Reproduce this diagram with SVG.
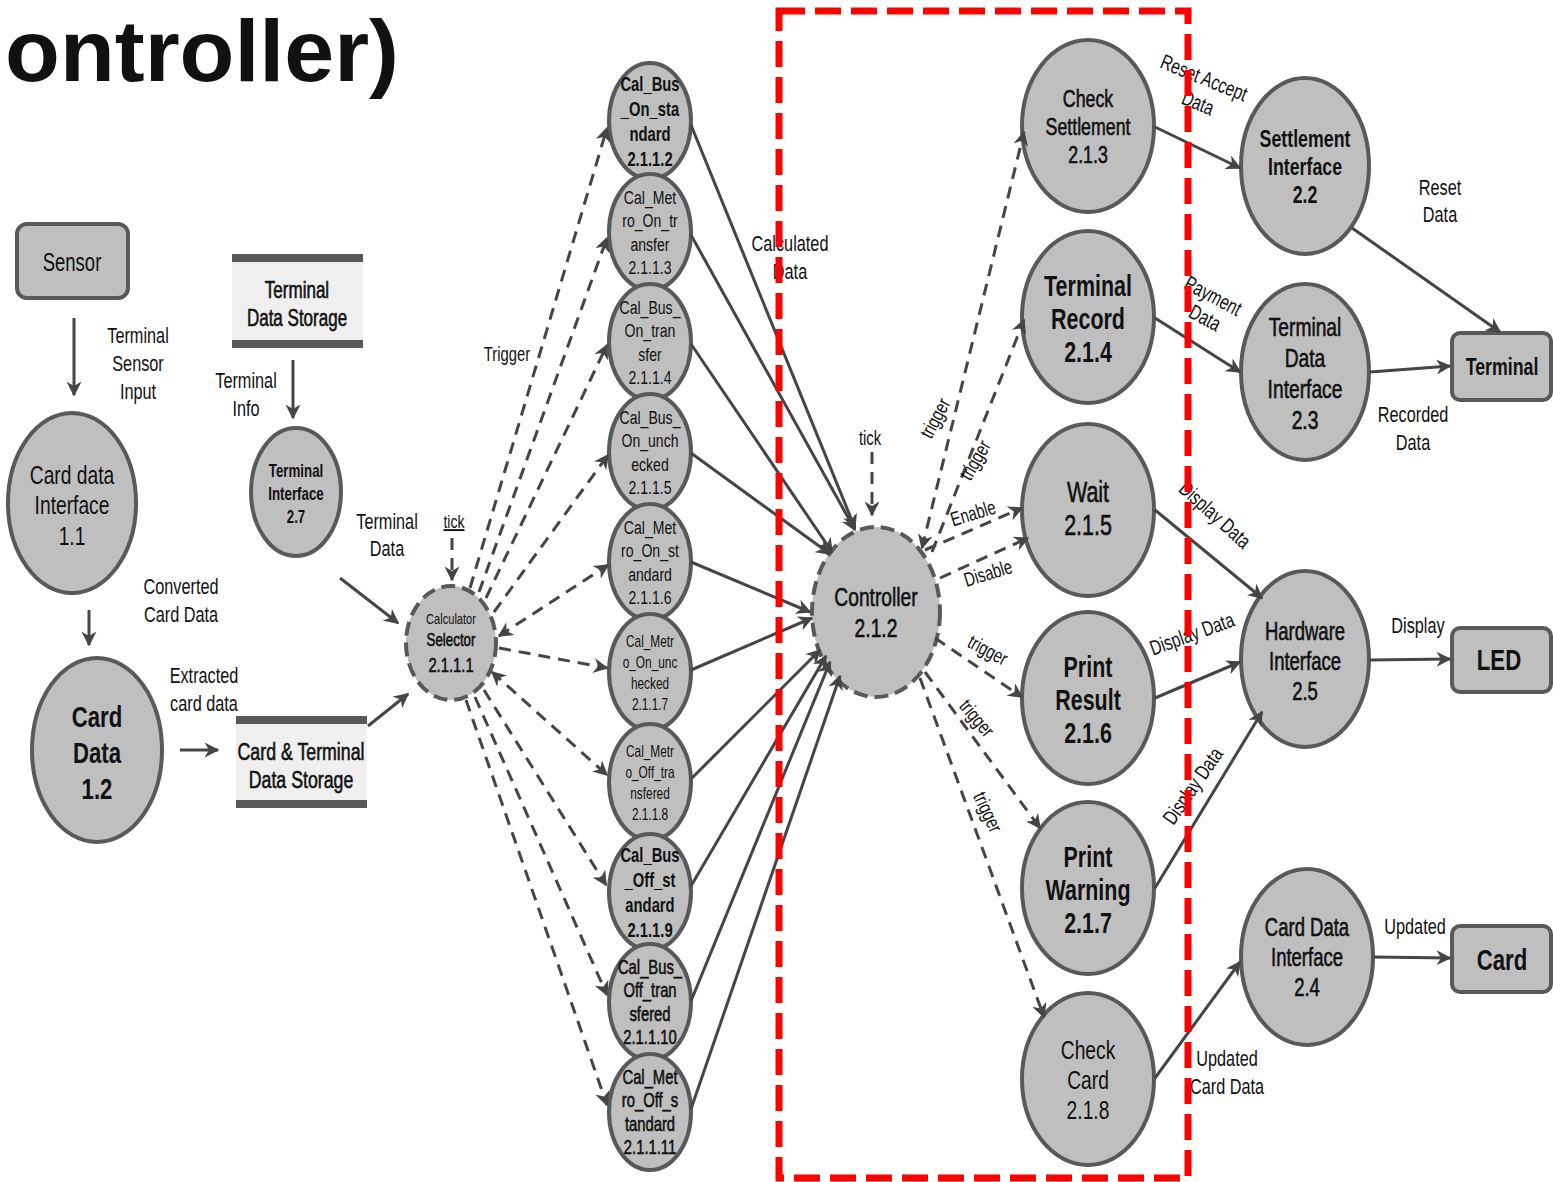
<svg xmlns="http://www.w3.org/2000/svg" width="1553" height="1182" viewBox="0 0 1553 1182">
<style>
.t{font-family:"Liberation Sans","Noto Sans",sans-serif;text-anchor:middle;fill:#111}
.b{font-weight:700}
.sb{stroke:#111;stroke-width:0.6}
.n{fill:#bfbfbf;stroke:#595959;stroke-width:4}
.nd{fill:#bfbfbf;stroke:#595959;stroke-width:4;stroke-dasharray:14 7}
.box{fill:#bfbfbf;stroke:#595959;stroke-width:4}
.sto{fill:#efefef}
.bar{fill:#595959}
.l{stroke:#454545;stroke-width:3;fill:none;marker-end:url(#ah)}
.ld{stroke:#454545;stroke-width:3;fill:none;stroke-dasharray:12 8;marker-end:url(#ah)}
.bi{marker-start:url(#ah)}
.red{fill:none;stroke:#ff0000;stroke-width:7;stroke-dasharray:26 10}
</style>
<defs>
<marker id="ah" viewBox="0 0 10 10" refX="9" refY="5" markerWidth="5" markerHeight="5" orient="auto-start-reverse" markerUnits="strokeWidth">
<path d="M0,0 L10,5 L0,10 L3,5 z" fill="#454545"/>
</marker>
</defs>
<rect width="1553" height="1182" fill="#fff"/>

<text class="t b" font-size="88" style="text-anchor:end" transform="translate(399 81) scale(1.02 1)">ontroller)</text>

<g id="sensor"><rect class="box" x="17" y="224" width="111" height="74" rx="10"/>
<text class="t" font-size="25" transform="translate(72 271) scale(.74 1)">Sensor</text></g>

<g id="n1_1"><ellipse class="n" cx="72" cy="503" rx="64" ry="90"/>
<text class="t" font-size="26" transform="translate(72 484) scale(.74 1)">Card data<tspan x="0" dy="30.5">Interface</tspan><tspan x="0" dy="30.5">1.1</tspan></text></g>

<g id="n1_2"><ellipse class="n" cx="97" cy="750" rx="65" ry="92"/>
<text class="t b" font-size="30" transform="translate(97 727) scale(.74 1)">Card<tspan x="0" dy="36">Data</tspan><tspan x="0" dy="36">1.2</tspan></text></g>

<g id="termStore"><rect class="sto" x="232" y="254" width="131" height="94"/>
<rect class="bar" x="232" y="254" width="131" height="8"/><rect class="bar" x="232" y="340" width="131" height="8"/>
<text class="t sb" font-size="23" transform="translate(297 298) scale(.74 1)">Terminal<tspan x="0" dy="28">Data Storage</tspan></text></g>

<g id="n2_7"><ellipse class="n" cx="296" cy="492" rx="45" ry="64"/>
<text class="t b" font-size="18" transform="translate(296 477) scale(.74 1)">Terminal<tspan x="0" dy="23">Interface</tspan><tspan x="0" dy="23">2.7</tspan></text></g>

<g id="cardStore"><rect class="sto" x="236" y="716" width="131" height="92"/>
<rect class="bar" x="236" y="716" width="131" height="8"/><rect class="bar" x="236" y="800" width="131" height="8"/>
<text class="t sb" font-size="24" transform="translate(301 760) scale(.74 1)">Card &amp; Terminal<tspan x="0" dy="28">Data Storage</tspan></text></g>

<g id="n2_1_1_1"><ellipse class="nd" cx="451" cy="643" rx="45" ry="57"/>
<text class="t" font-size="15" transform="translate(451 624) scale(.74 1)">Calculator</text>
<text class="t sb" font-size="18" transform="translate(451 646) scale(.74 1)">Selector</text>
<text class="t sb" font-size="20" transform="translate(451 672) scale(.74 1)">2.1.1.1</text></g>

<g id="n2_1_1_2"><ellipse class="n" cx="650" cy="121" rx="41" ry="58"/>
<text class="t b" font-size="20" transform="translate(650 91) scale(.74 1)">Cal_Bus<tspan x="0" dy="25">_On_sta</tspan><tspan x="0" dy="25">ndard</tspan><tspan x="0" dy="25">2.1.1.2</tspan></text></g>
<g id="n2_1_1_3"><ellipse class="n" cx="650" cy="232" rx="41" ry="58"/>
<text class="t" font-size="19" transform="translate(650 204) scale(.74 1)">Cal_Met<tspan x="0" dy="23.5">ro_On_tr</tspan><tspan x="0" dy="23.5">ansfer</tspan><tspan x="0" dy="23.5">2.1.1.3</tspan></text></g>
<g id="n2_1_1_4"><ellipse class="n" cx="650" cy="342" rx="41" ry="58"/>
<text class="t" font-size="19" transform="translate(650 314) scale(.74 1)">Cal_Bus_<tspan x="0" dy="23.5">On_tran</tspan><tspan x="0" dy="23.5">sfer</tspan><tspan x="0" dy="23.5">2.1.1.4</tspan></text></g>
<g id="n2_1_1_5"><ellipse class="n" cx="650" cy="452" rx="41" ry="58"/>
<text class="t" font-size="19" transform="translate(650 424) scale(.74 1)">Cal_Bus_<tspan x="0" dy="23.5">On_unch</tspan><tspan x="0" dy="23.5">ecked</tspan><tspan x="0" dy="23.5">2.1.1.5</tspan></text></g>
<g id="n2_1_1_6"><ellipse class="n" cx="650" cy="562" rx="41" ry="58"/>
<text class="t" font-size="19" transform="translate(650 534) scale(.74 1)">Cal_Met<tspan x="0" dy="23.5">ro_On_st</tspan><tspan x="0" dy="23.5">andard</tspan><tspan x="0" dy="23.5">2.1.1.6</tspan></text></g>
<g id="n2_1_1_7"><ellipse class="n" cx="650" cy="672" rx="41" ry="58"/>
<text class="t" font-size="16" transform="translate(650 647) scale(.74 1)">Cal_Metr<tspan x="0" dy="21">o_On_unc</tspan><tspan x="0" dy="21">hecked</tspan><tspan x="0" dy="21">2.1.1.7</tspan></text></g>
<g id="n2_1_1_8"><ellipse class="n" cx="650" cy="782" rx="41" ry="58"/>
<text class="t" font-size="16" transform="translate(650 757) scale(.74 1)">Cal_Metr<tspan x="0" dy="21">o_Off_tra</tspan><tspan x="0" dy="21">nsfered</tspan><tspan x="0" dy="21">2.1.1.8</tspan></text></g>
<g id="n2_1_1_9"><ellipse class="n" cx="650" cy="892" rx="41" ry="58"/>
<text class="t b" font-size="20" transform="translate(650 862) scale(.74 1)">Cal_Bus<tspan x="0" dy="25">_Off_st</tspan><tspan x="0" dy="25">andard</tspan><tspan x="0" dy="25">2.1.1.9</tspan></text></g>
<g id="n2_1_1_10"><ellipse class="n" cx="650" cy="1002" rx="41" ry="58"/>
<text class="t sb" font-size="20" transform="translate(650 974) scale(.74 1)">Cal_Bus_<tspan x="0" dy="23.5">Off_tran</tspan><tspan x="0" dy="23.5">sfered</tspan><tspan x="0" dy="23.5">2.1.1.10</tspan></text></g>
<g id="n2_1_1_11"><ellipse class="n" cx="650" cy="1112" rx="41" ry="58"/>
<text class="t sb" font-size="20" transform="translate(650 1084) scale(.74 1)">Cal_Met<tspan x="0" dy="23.5">ro_Off_s</tspan><tspan x="0" dy="23.5">tandard</tspan><tspan x="0" dy="23.5">2.1.1.11</tspan></text></g>

<g id="n2_1_2"><ellipse class="nd" cx="876" cy="612" rx="64" ry="85"/>
<text class="t sb" font-size="26" transform="translate(876 606) scale(.74 1)">Controller<tspan x="0" dy="31">2.1.2</tspan></text></g>

<g id="n2_1_3"><ellipse class="n" cx="1088" cy="126" rx="66" ry="86"/>
<text class="t sb" font-size="24" transform="translate(1088 107) scale(.74 1)">Check<tspan x="0" dy="28">Settlement</tspan><tspan x="0" dy="28">2.1.3</tspan></text></g>
<g id="n2_1_4"><ellipse class="n" cx="1088" cy="317" rx="66" ry="86"/>
<text class="t b" font-size="29" transform="translate(1088 296) scale(.74 1)">Terminal<tspan x="0" dy="33">Record</tspan><tspan x="0" dy="33">2.1.4</tspan></text></g>
<g id="n2_1_5"><ellipse class="n" cx="1088" cy="510" rx="66" ry="86"/>
<text class="t sb" font-size="29" transform="translate(1088 502) scale(.74 1)">Wait<tspan x="0" dy="33">2.1.5</tspan></text></g>
<g id="n2_1_6"><ellipse class="n" cx="1088" cy="698" rx="66" ry="86"/>
<text class="t b" font-size="29" transform="translate(1088 677) scale(.74 1)">Print<tspan x="0" dy="33">Result</tspan><tspan x="0" dy="33">2.1.6</tspan></text></g>
<g id="n2_1_7"><ellipse class="n" cx="1088" cy="888" rx="66" ry="86"/>
<text class="t b" font-size="29" transform="translate(1088 867) scale(.74 1)">Print<tspan x="0" dy="33">Warning</tspan><tspan x="0" dy="33">2.1.7</tspan></text></g>
<g id="n2_1_8"><ellipse class="n" cx="1088" cy="1079" rx="66" ry="86"/>
<text class="t" font-size="26" transform="translate(1088 1059) scale(.74 1)">Check<tspan x="0" dy="30">Card</tspan><tspan x="0" dy="30">2.1.8</tspan></text></g>

<g id="n2_2"><ellipse class="n" cx="1305" cy="166" rx="64" ry="88"/>
<text class="t b" font-size="24" transform="translate(1305 147) scale(.74 1)">Settlement<tspan x="0" dy="28">Interface</tspan><tspan x="0" dy="28">2.2</tspan></text></g>
<g id="n2_3"><ellipse class="n" cx="1305" cy="372" rx="64" ry="88"/>
<text class="t sb" font-size="26" transform="translate(1305 336) scale(.74 1)">Terminal<tspan x="0" dy="31">Data</tspan><tspan x="0" dy="31">Interface</tspan><tspan x="0" dy="31">2.3</tspan></text></g>
<g id="n2_5"><ellipse class="n" cx="1305" cy="659" rx="64" ry="88"/>
<text class="t sb" font-size="25" transform="translate(1305 640) scale(.74 1)">Hardware<tspan x="0" dy="30">Interface</tspan><tspan x="0" dy="30">2.5</tspan></text></g>
<g id="n2_4"><ellipse class="n" cx="1307" cy="957" rx="66" ry="88"/>
<text class="t sb" font-size="25" transform="translate(1307 936) scale(.74 1)">Card Data<tspan x="0" dy="30">Interface</tspan><tspan x="0" dy="30">2.4</tspan></text></g>

<g id="terminal"><rect class="box" x="1452" y="333" width="99" height="67" rx="8"/>
<text class="t b" font-size="24" transform="translate(1502 375) scale(.74 1)">Terminal</text></g>
<g id="led"><rect class="box" x="1452" y="628" width="99" height="64" rx="8"/>
<text class="t b" font-size="30" transform="translate(1499 670) scale(.74 1)">LED</text></g>
<g id="card"><rect class="box" x="1452" y="926" width="99" height="66" rx="8"/>
<text class="t b" font-size="30" transform="translate(1502 970) scale(.74 1)">Card</text></g>

<g id="connectors">
<line class="l" x1="74" y1="318" x2="74" y2="395"/>
<line class="l" x1="293" y1="360" x2="293" y2="418"/>
<line class="l" x1="89" y1="610" x2="89" y2="645"/>
<line class="l" x1="180" y1="750" x2="218" y2="750"/>
<line class="l" x1="368" y1="726" x2="408" y2="694"/>
<line class="l" x1="340" y1="578" x2="398" y2="623"/>
<line class="ld" x1="452" y1="538" x2="452" y2="580"/>

<line class="ld" x1="470" y1="588" x2="607" y2="128"/>
<line class="ld" x1="479" y1="592" x2="607" y2="238"/>
<line class="ld" x1="486" y1="598" x2="607" y2="345"/>
<line class="ld" x1="494" y1="612" x2="608" y2="455"/>
<line class="ld bi" x1="499" y1="636" x2="608" y2="565"/>
<line class="ld" x1="499" y1="648" x2="607" y2="668"/>
<line class="ld bi" x1="492" y1="672" x2="607" y2="775"/>
<line class="ld" x1="484" y1="690" x2="606" y2="885"/>
<line class="ld" x1="475" y1="697" x2="607" y2="995"/>
<line class="ld" x1="466" y1="700" x2="607" y2="1105"/>

<line class="l" x1="691" y1="125" x2="855" y2="528"/>
<line class="l" x1="691" y1="235" x2="855" y2="530"/>
<line class="l" x1="691" y1="344" x2="832" y2="552"/>
<line class="l" x1="691" y1="453" x2="830" y2="554"/>
<line class="l" x1="691" y1="562" x2="810" y2="612"/>
<line class="l" x1="691" y1="670" x2="812" y2="618"/>
<line class="l" x1="691" y1="779" x2="820" y2="650"/>
<line class="l" x1="691" y1="886" x2="826" y2="656"/>
<line class="l" x1="691" y1="1001" x2="830" y2="662"/>
<line class="l" x1="691" y1="1109" x2="840" y2="676"/>

<line class="ld" x1="872" y1="452" x2="872" y2="515"/>
<line class="ld bi" x1="922" y1="548" x2="1024" y2="132"/>
<line class="ld" x1="932" y1="552" x2="1024" y2="320"/>
<line class="ld" x1="925" y1="550" x2="1022" y2="508"/>
<line class="ld" x1="940" y1="578" x2="1028" y2="538"/>
<line class="ld" x1="935" y1="638" x2="1022" y2="697"/>
<line class="ld" x1="925" y1="672" x2="1040" y2="828"/>
<line class="ld" x1="920" y1="678" x2="1044" y2="1017"/>

<line class="l" x1="1155" y1="127" x2="1240" y2="168"/>
<line class="l" x1="1155" y1="318" x2="1240" y2="372"/>
<line class="l" x1="1155" y1="510" x2="1262" y2="598"/>
<line class="l" x1="1155" y1="698" x2="1240" y2="662"/>
<line class="l" x1="1155" y1="888" x2="1262" y2="712"/>
<line class="l" x1="1155" y1="1078" x2="1240" y2="962"/>
<line class="l" x1="1352" y1="228" x2="1500" y2="332"/>
<line class="l" x1="1370" y1="372" x2="1450" y2="366"/>
<line class="l" x1="1370" y1="660" x2="1450" y2="659"/>
<line class="l" x1="1374" y1="957" x2="1450" y2="958"/>
</g>

<g id="labels">
<text class="t" font-size="22" transform="translate(138 343) scale(.74 1)">Terminal<tspan x="0" dy="28">Sensor</tspan><tspan x="0" dy="28">Input</tspan></text>
<text class="t" font-size="22" transform="translate(246 388) scale(.74 1)">Terminal<tspan x="0" dy="28">Info</tspan></text>
<text class="t" font-size="22" transform="translate(181 594) scale(.74 1)">Converted<tspan x="0" dy="28">Card Data</tspan></text>
<text class="t" font-size="22" transform="translate(204 683) scale(.74 1)">Extracted<tspan x="0" dy="28">card data</tspan></text>
<text class="t" font-size="22" transform="translate(387 529) scale(.74 1)">Terminal<tspan x="0" dy="27">Data</tspan></text>
<text class="t" font-size="19" text-decoration="underline" transform="translate(454 528) scale(.74 1)">tick</text>
<text class="t" font-size="20" transform="translate(507 361) scale(.74 1)">Trigger</text>
<text class="t" font-size="22" transform="translate(790 251) scale(.74 1)">Calculated<tspan x="0" dy="28">Data</tspan></text>
<text class="t" font-size="20" transform="translate(870 445) scale(.74 1)">tick</text>
<text class="t" font-size="20" transform="translate(935 418) rotate(-62) scale(.74 1)" dy="7">trigger</text>
<text class="t" font-size="20" transform="translate(975 460) rotate(-60) scale(.74 1)" dy="7">trigger</text>
<text class="t" font-size="20" transform="translate(973 513) rotate(-17) scale(.74 1)" dy="7">Enable</text>
<text class="t" font-size="20" transform="translate(988 573) rotate(-17) scale(.74 1)" dy="7">Disable</text>
<text class="t" font-size="20" transform="translate(988 650) rotate(28) scale(.74 1)" dy="7">trigger</text>
<text class="t" font-size="20" transform="translate(977 718) rotate(50) scale(.74 1)" dy="7">trigger</text>
<text class="t" font-size="20" transform="translate(988 812) rotate(65) scale(.74 1)" dy="7">trigger</text>
<text class="t" font-size="21" transform="translate(1204 78) rotate(22) scale(.74 1)" dy="7">Reset Accept</text>
<text class="t" font-size="21" transform="translate(1198 103) rotate(22) scale(.74 1)" dy="7">Data</text>
<text class="t" font-size="21" transform="translate(1213 296) rotate(28) scale(.74 1)" dy="7">Payment</text>
<text class="t" font-size="21" transform="translate(1205 318) rotate(28) scale(.74 1)" dy="7">Data</text>
<text class="t" font-size="21" transform="translate(1215 515) rotate(42) scale(.74 1)" dy="7">Display Data</text>
<text class="t" font-size="21" transform="translate(1192 634) rotate(-20) scale(.74 1)" dy="7">Display Data</text>
<text class="t" font-size="21" transform="translate(1193 786) rotate(-55) scale(.74 1)" dy="7">Display Data</text>
<text class="t" font-size="22" transform="translate(1440 195) scale(.74 1)">Reset<tspan x="0" dy="27">Data</tspan></text>
<text class="t" font-size="22" transform="translate(1413 422) scale(.74 1)">Recorded<tspan x="0" dy="28">Data</tspan></text>
<text class="t" font-size="22" transform="translate(1418 633) scale(.74 1)">Display</text>
<text class="t" font-size="22" transform="translate(1415 934) scale(.74 1)">Updated</text>
<text class="t" font-size="22" transform="translate(1227 1066) scale(.74 1)">Updated<tspan x="0" dy="28">Card Data</tspan></text>
</g>

<rect id="boundary" class="red" x="779" y="11" width="409" height="1167"/>
</svg>
